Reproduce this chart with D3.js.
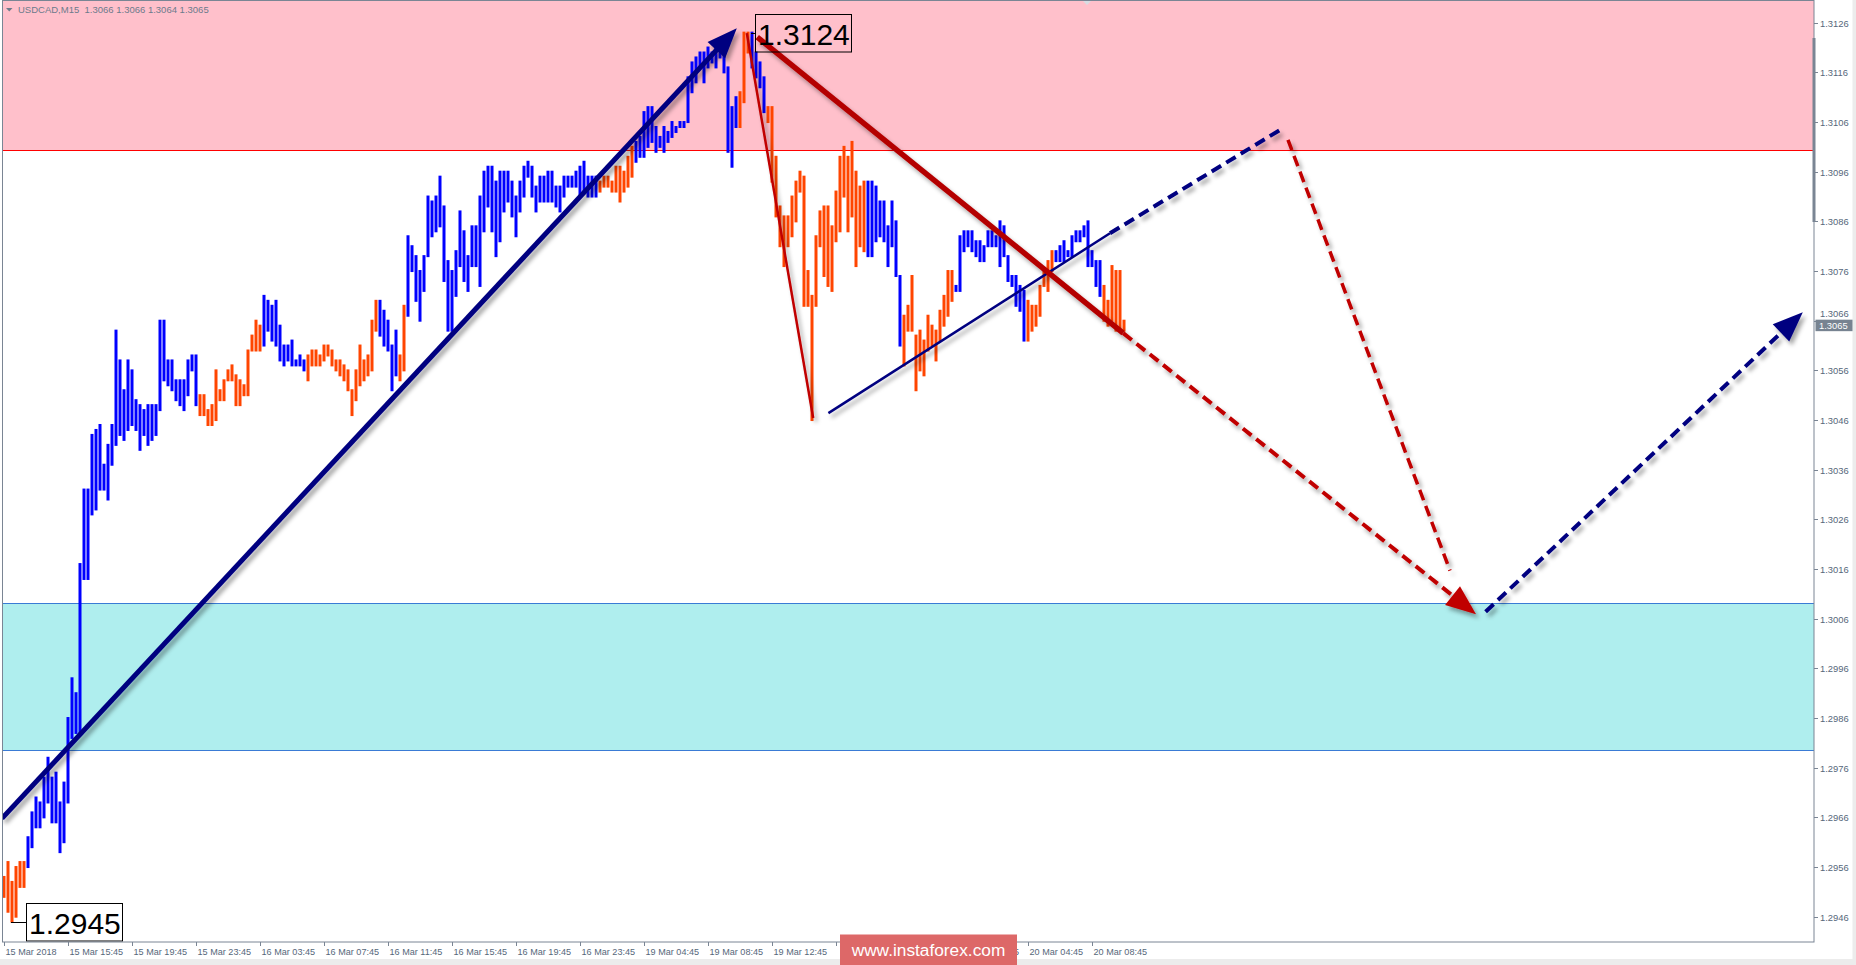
<!DOCTYPE html>
<html>
<head>
<meta charset="utf-8">
<title>USDCAD M15</title>
<script src="https://cdn.jsdelivr.net/npm/d3@7"></script>
<style>
  body { margin: 0; background: #fff; overflow: hidden; }
  text { font-family: "Liberation Sans", Arial, sans-serif; }
</style>
</head>
<body>
<script>
// ---- data ----
var header = "USDCAD,M15  1.3066 1.3066 1.3064 1.3065";
var priceTicks = [1.3126, 1.3116, 1.3106, 1.3096, 1.3086, 1.3076, 1.3066, 1.3056, 1.3046, 1.3036,
                  1.3026, 1.3016, 1.3006, 1.2996, 1.2986, 1.2976, 1.2966, 1.2956, 1.2946];
var timeLabels = ["15 Mar 2018", "15 Mar 15:45", "15 Mar 19:45", "15 Mar 23:45", "16 Mar 03:45",
                  "16 Mar 07:45", "16 Mar 11:45", "16 Mar 15:45", "16 Mar 19:45", "16 Mar 23:45",
                  "19 Mar 04:45", "19 Mar 08:45", "19 Mar 12:45", "19 Mar 16:45", "19 Mar 20:45",
                  "20 Mar 00:45", "20 Mar 04:45", "20 Mar 08:45"];
var timeLabelBars = [0, 16, 32, 48, 64, 80, 96, 112, 128, 144, 160, 176, 192, 208, 224, 240, 256, 272];

var highs = [
  1.2954,1.2957,1.2953,1.2956,1.2957,1.2957,1.2962,1.2967,1.2970,1.2969,
  1.2974,1.2978,1.2974,1.2975,1.2969,1.2973,1.2986,1.2994,1.2991,1.3017,
  1.3032,1.3032,1.3043,1.3044,1.3045,1.3037,1.3041,1.3045,1.3064,1.3058,
  1.3052,1.3058,1.3056,1.3050,1.3049,1.3048,1.3049,1.3049,1.3049,1.3066,
  1.3066,1.3058,1.3058,1.3054,1.3054,1.3054,1.3058,1.3059,1.3059,1.3051,
  1.3051,1.3048,1.3049,1.3056,1.3052,1.3054,1.3056,1.3057,1.3055,1.3054,
  1.3053,1.3060,1.3063,1.3066,1.3065,1.3071,1.3070,1.3069,1.3070,1.3065,
  1.3061,1.3061,1.3062,1.3058,1.3059,1.3058,1.3059,1.3060,1.3060,1.3059,
  1.3061,1.3061,1.3060,1.3058,1.3058,1.3057,1.3056,1.3052,1.3056,1.3061,
  1.3058,1.3059,1.3066,1.3070,1.3070,1.3068,1.3066,1.3061,1.3064,1.3059,
  1.3069,1.3083,1.3081,1.3079,1.3076,1.3079,1.3091,1.3090,1.3091,1.3095,
  1.3089,1.3078,1.3076,1.3080,1.3088,1.3084,1.3079,1.3085,1.3085,1.3091,
  1.3096,1.3097,1.3097,1.3094,1.3096,1.3096,1.3096,1.3094,1.3091,1.3094,
  1.3097,1.3098,1.3097,1.3093,1.3095,1.3095,1.3096,1.3096,1.3093,1.3093,
  1.3095,1.3095,1.3095,1.3096,1.3097,1.3098,1.3095,1.3095,1.3095,1.3094,
  1.3095,1.3095,1.3094,1.3097,1.3097,1.3096,1.3099,1.3101,1.3102,1.3103,
  1.3108,1.3109,1.3109,1.3105,1.3103,1.3105,1.3104,1.3106,1.3105,1.3106,
  1.3106,1.3115,1.3118,1.3119,1.3120,1.3120,1.3121,1.3120,1.3121,1.3122,
  1.3120,1.3117,1.3109,1.3111,1.3112,1.3124,1.3124,1.3124,1.3120,1.3118,
  1.3115,1.3109,1.3109,1.3099,1.3089,1.3087,1.3087,1.3091,1.3094,1.3096,
  1.3095,1.3076,1.3071,1.3083,1.3088,1.3089,1.3089,1.3085,1.3092,1.3099,
  1.3101,1.3099,1.3102,1.3096,1.3093,1.3094,1.3094,1.3094,1.3093,1.3090,
  1.3090,1.3085,1.3090,1.3086,1.3075,1.3067,1.3069,1.3075,1.3063,1.3064,
  1.3062,1.3067,1.3065,1.3064,1.3068,1.3071,1.3076,1.3076,1.3073,1.3083,
  1.3084,1.3084,1.3084,1.3082,1.3082,1.3081,1.3084,1.3084,1.3083,1.3086,
  1.3085,1.3079,1.3075,1.3075,1.3073,1.3072,1.3070,1.3069,1.3069,1.3073,
  1.3076,1.3078,1.3080,1.3080,1.3081,1.3082,1.3080,1.3083,1.3084,1.3084,
  1.3085,1.3086,1.3080,1.3078,1.3078,1.3073,1.3070,1.3077,1.3076,1.3076,
  1.3066];
var lows = [
  1.2950,1.2947,1.2945,1.2946,1.2952,1.2952,1.2956,1.2960,1.2964,1.2964,
  1.2966,1.2969,1.2965,1.2965,1.2959,1.2961,1.2969,1.2982,1.2983,1.2983,
  1.3014,1.3014,1.3027,1.3028,1.3032,1.3032,1.3030,1.3037,1.3041,1.3043,
  1.3042,1.3044,1.3045,1.3044,1.3040,1.3043,1.3041,1.3042,1.3043,1.3048,
  1.3054,1.3053,1.3052,1.3050,1.3049,1.3048,1.3051,1.3056,1.3049,1.3047,
  1.3047,1.3045,1.3045,1.3046,1.3050,1.3050,1.3054,1.3054,1.3049,1.3049,
  1.3051,1.3051,1.3060,1.3060,1.3060,1.3061,1.3064,1.3062,1.3061,1.3058,
  1.3057,1.3058,1.3057,1.3057,1.3057,1.3056,1.3054,1.3057,1.3057,1.3057,
  1.3058,1.3059,1.3057,1.3056,1.3055,1.3054,1.3052,1.3047,1.3050,1.3053,
  1.3054,1.3055,1.3056,1.3064,1.3063,1.3061,1.3060,1.3052,1.3055,1.3054,
  1.3056,1.3067,1.3076,1.3070,1.3066,1.3072,1.3079,1.3083,1.3084,1.3085,
  1.3074,1.3064,1.3064,1.3071,1.3077,1.3074,1.3072,1.3077,1.3077,1.3073,
  1.3084,1.3089,1.3084,1.3079,1.3082,1.3088,1.3090,1.3087,1.3083,1.3088,
  1.3091,1.3095,1.3091,1.3088,1.3090,1.3090,1.3090,1.3090,1.3089,1.3088,
  1.3091,1.3093,1.3093,1.3093,1.3091,1.3092,1.3091,1.3091,1.3091,1.3092,
  1.3093,1.3093,1.3092,1.3092,1.3090,1.3092,1.3093,1.3095,1.3098,1.3099,
  1.3099,1.3101,1.3102,1.3100,1.3101,1.3100,1.3102,1.3103,1.3104,1.3105,
  1.3105,1.3106,1.3112,1.3114,1.3117,1.3114,1.3117,1.3118,1.3117,1.3119,
  1.3116,1.3100,1.3097,1.3105,1.3105,1.3110,1.3120,1.3117,1.3115,1.3113,
  1.3108,1.3106,1.3094,1.3087,1.3081,1.3077,1.3081,1.3083,1.3086,1.3092,
  1.3069,1.3069,1.3046,1.3069,1.3081,1.3075,1.3073,1.3072,1.3082,1.3084,
  1.3091,1.3084,1.3087,1.3077,1.3081,1.3080,1.3079,1.3079,1.3082,1.3083,
  1.3082,1.3077,1.3081,1.3075,1.3061,1.3057,1.3064,1.3064,1.3052,1.3056,
  1.3055,1.3060,1.3061,1.3058,1.3062,1.3065,1.3067,1.3070,1.3072,1.3072,
  1.3080,1.3081,1.3080,1.3079,1.3078,1.3078,1.3081,1.3081,1.3081,1.3077,
  1.3079,1.3074,1.3073,1.3069,1.3068,1.3062,1.3062,1.3064,1.3065,1.3067,
  1.3073,1.3072,1.3076,1.3078,1.3078,1.3078,1.3079,1.3079,1.3082,1.3082,
  1.3083,1.3077,1.3077,1.3073,1.3071,1.3066,1.3065,1.3066,1.3064,1.3064,
  1.3064];
// u = bullish bar (blue), d = bearish bar (orange)
var dirs = ("dddddduuuu uuuuuuuuuu uuuuuuuuuu uuuuuuuuuu uuuuuuuuud dddddddddd ddddduuuuu uuuuuudddd " +
            "dddddddddd dddduuuuud duuuuuuuuu uuuuuuuuuu uuuuuuuuuu uuuuuuuuuu uuuuuuuuud dddddddduu " +
            "uuuuuuuuuu uuuuuuuuuu uuuuddduuu uddddddddd dddddddddd dddddduuuu uuuuuddddd dddddddduu " +
            "uuuuuuuuuu uuuuuudddd ddduuuuuuu uuuuuddddd d").replace(/ /g, "");

var resistZone = [1.31003, 1.3131];
var supportZone = [1.29795, 1.30091];
var peakBar = 187, peakPrice = 1.3124;
var lowBar = 2, lowPrice = 1.2945;
var lastPrice = 1.3065;

// wave markup, [bar index, price]
var impulseUp  = [[-0.5, 1.29658], [183.2, 1.31249]];
var redThin    = [[185.7, 1.31239], [202.3, 1.30464]];
var blueThin   = [[206.1, 1.30474], [276.5, 1.30836]];
var redMain    = [[188.3, 1.31231], [279.8, 1.30635]];
var redDash    = [[279.8, 1.30635], [368.0, 1.30069]];
var blueDash   = [[276.5, 1.30836], [319.8, 1.31048]];
var redDash2   = [[321.0, 1.31024], [361.5, 1.30157]];
var blueDash2  = [[370.4, 1.30074], [449.7, 1.30677]];

// ---- drawing ----
var W = 1856, H = 965;
var plotL = 2.5, plotT = 0.5, plotR = 1814, plotB = 942;
var wmX = 840, wmW = 177;   // watermark box

var x = d3.scaleLinear().domain([0, 280]).range([4, 1124]);
var y = d3.scaleLinear().domain([1.2946, 1.3126]).range([916.7, 22.7]);

var svg = d3.select("body").append("svg").attr("width", W).attr("height", H);
var defs = svg.append("defs");
defs.append("clipPath").attr("id", "plot")
  .append("rect").attr("x", plotL).attr("y", plotT).attr("width", plotR - plotL).attr("height", plotB - plotT);
var filt = defs.append("filter").attr("id", "shadow")
  .attr("filterUnits", "userSpaceOnUse").attr("x", 0).attr("y", 0).attr("width", W).attr("height", H);
filt.append("feDropShadow").attr("dx", 3).attr("dy", 4).attr("stdDeviation", 2)
  .attr("flood-color", "#000").attr("flood-opacity", 0.35);

// window borders
svg.append("rect").attr("x", 0).attr("y", 959).attr("width", W).attr("height", 6).attr("fill", "#ececec");
svg.append("rect").attr("x", 1852.5).attr("y", 0).attr("width", 3.5).attr("height", H).attr("fill", "#ececec");

var plot = svg.append("g").attr("clip-path", "url(#plot)");

// zones
plot.append("rect").attr("x", plotL).attr("width", plotR - plotL)
  .attr("y", y(resistZone[1])).attr("height", y(resistZone[0]) - y(resistZone[1]))
  .attr("fill", "#ffc0cb");
plot.append("line").attr("x1", plotL).attr("x2", plotR)
  .attr("y1", Math.round(y(resistZone[0])) + 0.5).attr("y2", Math.round(y(resistZone[0])) + 0.5)
  .attr("stroke", "#ff0000").attr("stroke-width", 1);
plot.append("rect").attr("x", plotL).attr("width", plotR - plotL)
  .attr("y", y(supportZone[1])).attr("height", y(supportZone[0]) - y(supportZone[1]))
  .attr("fill", "#afeeee");
supportZone.forEach(function(p){
  plot.append("line").attr("x1", plotL).attr("x2", plotR)
    .attr("y1", Math.round(y(p)) + 0.5).attr("y2", Math.round(y(p)) + 0.5)
    .attr("stroke", "#3a7bd5").attr("stroke-width", 1);
});

// bars
plot.append("g").selectAll("rect")
  .data(highs)
  .enter()
  .append("rect")
  .attr("x", function(d, i){ return x(i) - 1.5; })
  .attr("width", 3)
  .attr("y", function(d){ return y(d) - 1; })
  .attr("height", function(d, i){ return Math.max(2, y(lows[i]) - y(d) + 2); })
  .attr("fill", function(d, i){ return dirs[i] == "u" ? "#0000ff" : "#ff4500"; });

// wave lines
var marks = plot.append("g").attr("filter", "url(#shadow)");

function px(p){ return [x(p[0]), y(p[1])]; }

function segment(pts, color, width, dash, arrow){
  var a = px(pts[0]), b = px(pts[1]);
  var dx = b[0] - a[0], dy = b[1] - a[1];
  var len = Math.sqrt(dx*dx + dy*dy);
  var ux = dx/len, uy = dy/len;
  var end = b;
  if (arrow){
    var hl = 30, hw = 12;
    var bx = b[0] - ux*hl, by = b[1] - uy*hl;
    end = [bx + ux*3, by + uy*3];
    marks.append("path")
      .attr("d", "M" + b[0] + "," + b[1] +
                 "L" + (bx - uy*hw) + "," + (by + ux*hw) +
                 "L" + (bx + uy*hw) + "," + (by - ux*hw) + "Z")
      .attr("fill", color);
  }
  var ln = marks.append("line")
    .attr("x1", a[0]).attr("y1", a[1]).attr("x2", end[0]).attr("y2", end[1])
    .attr("stroke", color).attr("stroke-width", width);
  if (dash) ln.attr("stroke-dasharray", dash);
}

segment(impulseUp, "#000080", 5, null, true);
segment(redThin, "#c00000", 2.5, null, false);
segment(blueThin, "#000080", 2.5, null, false);
segment(redMain, "#b40000", 5.5, null, false);
segment(redDash, "#c00000", 4, "11,6", true);
segment(blueDash, "#000080", 4, "11,6", false);
segment(redDash2, "#c00000", 3.5, "11,6", false);
segment(blueDash2, "#000080", 4, "11,6", true);

// price labels for the extremes
function priceBox(bar, price, dx){
  var bx = Math.round(x(bar) + dx) + 0.5;
  var py = Math.round(y(price)) + 0.5;
  var by = py - 19;
  if (by < 13) by = 13.5;
  svg.append("line").attr("x1", x(bar) - 1).attr("x2", bx).attr("y1", py).attr("y2", py)
    .attr("stroke", "#000").attr("stroke-width", 1);
  svg.append("rect").attr("x", bx).attr("y", by).attr("width", 96).attr("height", 37.5)
    .attr("fill", "none").attr("stroke", "#000").attr("stroke-width", 1);
  svg.append("text").attr("x", bx + 2.5).attr("y", by + 30.5)
    .attr("font-size", 30).attr("fill", "#000").text(price.toFixed(4));
}
priceBox(peakBar, peakPrice, 3);
priceBox(lowBar, lowPrice, 14);

// frame
svg.append("rect").attr("x", plotL).attr("y", plotT).attr("width", plotR - plotL).attr("height", plotB - plotT)
  .attr("fill", "none").attr("stroke", "#7a8594").attr("stroke-width", 1);
svg.append("rect").attr("x", plotR - 1.5).attr("y", 38).attr("width", 3).attr("height", 184).attr("fill", "#7a8594");
svg.append("path").attr("d", "M1083,1 L1091,1 L1087,5 Z").attr("fill", "#d8dde3");

// price axis; the tick label that would sit under the last-price box is nudged above it
var yAxis = svg.append("g");
var ly = y(lastPrice);
priceTicks.forEach(function(p){
  var ty = Math.round(y(p)) + 0.5;
  yAxis.append("line").attr("x1", plotR).attr("x2", plotR + 4).attr("y1", ty).attr("y2", ty)
    .attr("stroke", "#7a8594");
  var base = ty + 3.3;
  if (Math.abs(ty - ly) < 9) base = Math.min(base, ly - 8.5);
  yAxis.append("text").attr("x", plotR + 6).attr("y", base)
    .attr("font-size", 9.4).attr("fill", "#56677a").text(p.toFixed(4));
});
yAxis.append("rect").attr("x", plotR + 1.5).attr("y", ly - 6).attr("width", 37).attr("height", 11.5).attr("fill", "#778391");
yAxis.append("text").attr("x", plotR + 5).attr("y", ly + 3.3)
  .attr("font-size", 9.4).attr("fill", "#fff").text(lastPrice.toFixed(4));

// time axis; the watermark covers part of some labels, only the visible part is kept
var xAxis = svg.append("g");
timeLabelBars.forEach(function(b, k){
  var tx = Math.round(x(b)) + 0.5;
  xAxis.append("line").attr("x1", tx).attr("x2", tx).attr("y1", plotB).attr("y2", plotB + 4)
    .attr("stroke", "#7a8594");
  var t = xAxis.append("text").attr("x", tx + 1).attr("y", 955)
    .attr("font-size", 9.1).attr("fill", "#56677a").text(timeLabels[k]);
  var s = timeLabels[k];
  var start = tx + 1, end = start + t.node().getComputedTextLength();
  if (end > wmX && start < wmX + wmW){
    var left = "", right = "", rightX = 0;
    for (var c = 1; c <= s.length; c++){
      if (start + t.node().getSubStringLength(0, c) <= wmX - 2) left = s.slice(0, c);
    }
    for (var c2 = s.length - 1; c2 >= 0; c2--){
      var off = t.node().getSubStringLength(0, c2);
      if (start + off >= wmX + wmW - 14){ right = s.slice(c2); rightX = start + off; }
    }
    if (left.trim().length){
      t.text(left.trim());
    } else if (right.length){
      t.attr("x", rightX).text(right);
    } else {
      t.remove();
    }
  }
});

// header
svg.append("path").attr("d", "M6,8 L12.5,8 L9.25,11.5 Z").attr("fill", "#6d7b8b");
svg.append("text").attr("x", 18).attr("y", 12.5).attr("font-size", 9.5).attr("fill", "#6d7b8b")
  .style("white-space", "pre").text(header);

// watermark
svg.append("rect").attr("x", wmX).attr("y", 934.5).attr("width", wmW).attr("height", 31).attr("fill", "#dd6868");
svg.append("text").attr("x", wmX + wmW / 2).attr("y", 956).attr("text-anchor", "middle")
  .attr("font-size", 17.3).attr("fill", "#fff").text("www.instaforex.com");
</script>
</body>
</html>
